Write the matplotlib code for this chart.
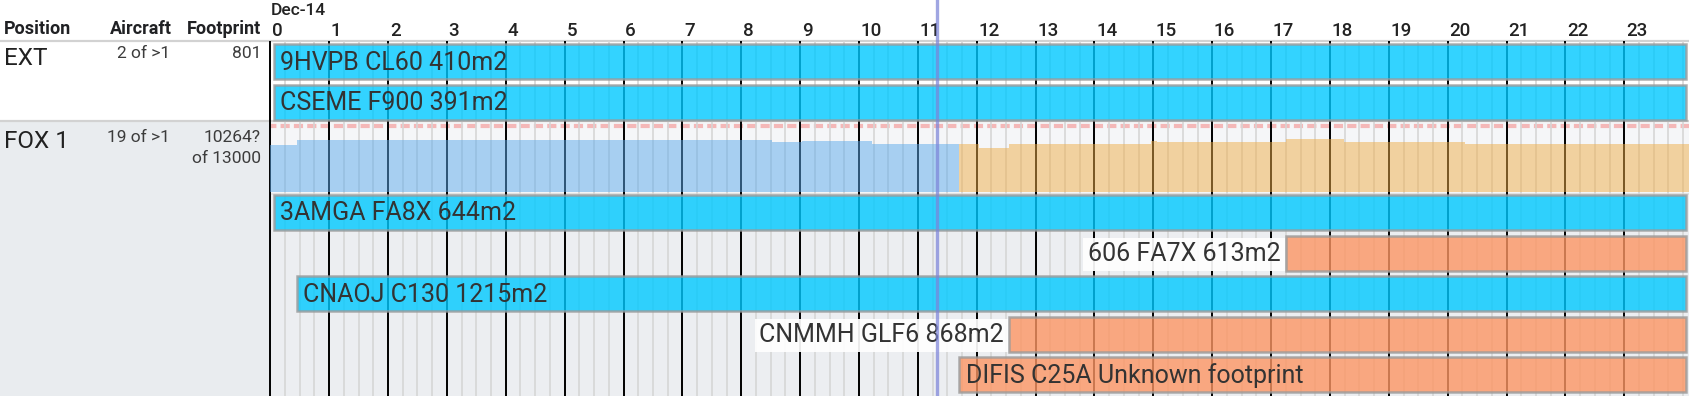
import numpy as np
import matplotlib
matplotlib.use('Agg')
import matplotlib.pyplot as plt

plt.rcParams['font.family'] = ['Roboto', 'DejaVu Sans']
plt.rcParams['lines.scale_dashes'] = False

# ---- data ----
positions = ['EXT', 'FOX 1']
aircraft_count = ['2 of >1', '19 of >1']
footprint_txt = [['801'], ['10264?', 'of 13000']]
hours = list(range(24))
date_label = 'Dec-14'

# bars
bar_pos = ['EXT', 'EXT', 'FOX 1', 'FOX 1', 'FOX 1', 'FOX 1', 'FOX 1']
bar_lane = [0, 1, 0, 1, 2, 3, 4]
bar_label = ['9HVPB CL60 410m2', 'CSEME F900 391m2', '3AMGA FA8X 644m2',
             '606 FA7X 613m2', 'CNAOJ C130 1215m2', 'CNMMH GLF6 868m2',
             'DIFIS C25A Unknown footprint']
bar_start = [0.06, 0.06, 0.06, 17.25, 0.45, 12.55, 11.70]
bar_end = [24.05, 24.05, 24.05, 24.05, 24.05, 24.05, 24.05]
bar_kind = ['on', 'on', 'on', 'plan', 'on', 'plan', 'plan']
bar_label_out = [False, False, False, True, False, True, False]

# FOX 1 footprint usage (step profile) against capacity
capacity = 13000
area_t = [0, 0.45, 8.53, 9.03, 10.22, 12.03, 12.55, 14.96, 15.06, 17.25, 18.24, 20.29, 24.1]
area_v = [9360, 10350, 9830, 10150, 9560, 8710, 9560, 10150, 9830, 10430, 9950, 9560, 9560]
split_t = 11.70
now_t = 11.33

# ---- layout (pixels) ----
W, H = 1689, 396
X0 = 270.3
PXH = 58.87
XMAX = (W - X0) / PXH
TOP = 41
EXT_BOT = 121
AREA_BOT = 192
AREA_H = 65.7
LANES = {'EXT': [61.5, 102], 'FOX 1': [212.5, 253, 293.5, 334, 374.5]}
BAR_H = 35
LBL_FS = 18

fig = plt.figure(figsize=(W / 100, H / 100), dpi=100)
fig.patch.set_facecolor('white')
axl = fig.add_axes([0, 0, X0 / W, 1])
axl.set_xlim(0, X0); axl.set_ylim(H, 0); axl.axis('off')
ax = fig.add_axes([X0 / W, 0, 1 - X0 / W, 1])
ax.set_xlim(0, XMAX); ax.set_ylim(H, 0); ax.axis('off')

# backgrounds
axl.axhspan(EXT_BOT, H, color='#e9ecef', zorder=0)
ax.axhspan(EXT_BOT, H, color='#eceef1', zorder=0)
ax.axhspan(EXT_BOT, AREA_BOT + 2, color='#f5f6f8', zorder=0.5)
for a in (axl, ax):
    a.axhline(TOP, color='#d2d2d2', lw=1.6, zorder=1)
    a.axhline(EXT_BOT, color='#d2d2d2', lw=1.6, zorder=1)
ax.axhline(AREA_BOT + 1.5, color='#dedede', lw=1.2, zorder=1)

# capacity line
ax.axhline(AREA_BOT - AREA_H, color='#f4b8b8', lw=3, linestyle=(2, (6.6, 3)), zorder=1.2)

# grid
quarters = np.arange(0, 24.25, 0.25)
ax.vlines(quarters, TOP, H, color='#d6d6d6', lw=1.2, zorder=2)
ax.vlines(hours, TOP, H, color='black', lw=1.4, zorder=2.1, clip_on=False)

# area
t = np.array(area_t); v = np.array(area_v, float)
top_px = AREA_BOT - v / capacity * AREA_H
v_split = v[np.searchsorted(t, split_t) - 1]
y_split = AREA_BOT - v_split / capacity * AREA_H
m = t < split_t
tb = np.append(t[m], split_t); yb = np.append(top_px[m], y_split)
ta = np.insert(t[~m], 0, split_t); ya = np.insert(top_px[~m], 0, y_split)
ax.fill_between(tb, AREA_BOT, yb, step='post', color='#5baaec', alpha=0.5, lw=0, zorder=3)
ax.fill_between(ta, AREA_BOT, ya, step='post', color='#efae48', alpha=0.5, lw=0, zorder=3)

# bars
colors = {'on': '#00c9ff', 'plan': '#fd9664'}
for pos, ln, lab, s, e, k, out in zip(bar_pos, bar_lane, bar_label, bar_start,
                                      bar_end, bar_kind, bar_label_out):
    yc = LANES[pos][ln]
    ax.barh(yc, e - s, left=s, height=BAR_H, color=colors[k], alpha=0.8,
            edgecolor='#9a9a9a', lw=1.8, zorder=4)
    if out:
        ax.text(s - 0.09, yc + 1, lab, ha='right', va='center', fontsize=LBL_FS,
                color='#333333', zorder=5,
                bbox=dict(boxstyle='square,pad=0.18', fc='white', ec='none', alpha=0.92))
    else:
        ax.text(s + 0.11, yc + 1, lab, ha='left', va='center', fontsize=LBL_FS,
                color='#333333', zorder=5)

# now line
ax.axvline(now_t, color='#7c84d8', alpha=0.72, lw=2.4, zorder=6)

# header
for h in hours:
    ax.text(h + 0.03, 36, str(h), ha='left', va='baseline', fontsize=13.5,
            fontweight='medium', color='#222222')
ax.text(0.0, 15, date_label, ha='left', va='baseline', fontsize=12.5,
        fontweight='medium', color='#222222')
axl.text(4, 34, 'Position', ha='left', va='baseline', fontsize=13,
         fontweight='bold', color='#202124')
axl.text(172, 34, 'Aircraft', ha='right', va='baseline', fontsize=13,
         fontweight='bold', color='#202124')
axl.text(261, 34, 'Footprint', ha='right', va='baseline', fontsize=13,
         fontweight='bold', color='#202124')

# left panel rows
row_base = [65, 148.3]
num_base = [58.3, 141.7]
for p, c, f, yb_, yn in zip(positions, aircraft_count, footprint_txt, row_base, num_base):
    axl.text(4, yb_, p, ha='left', va='baseline', fontsize=17.5, color='#212121')
    axl.text(170, yn, c, ha='right', va='baseline', fontsize=12.5, color='#3c3c3c')
    for i, line in enumerate(f):
        axl.text(261, yn + i * 21, line, ha='right', va='baseline', fontsize=12.5,
                 color='#3c3c3c')

fig.savefig('out.png', dpi=100, facecolor='white')
